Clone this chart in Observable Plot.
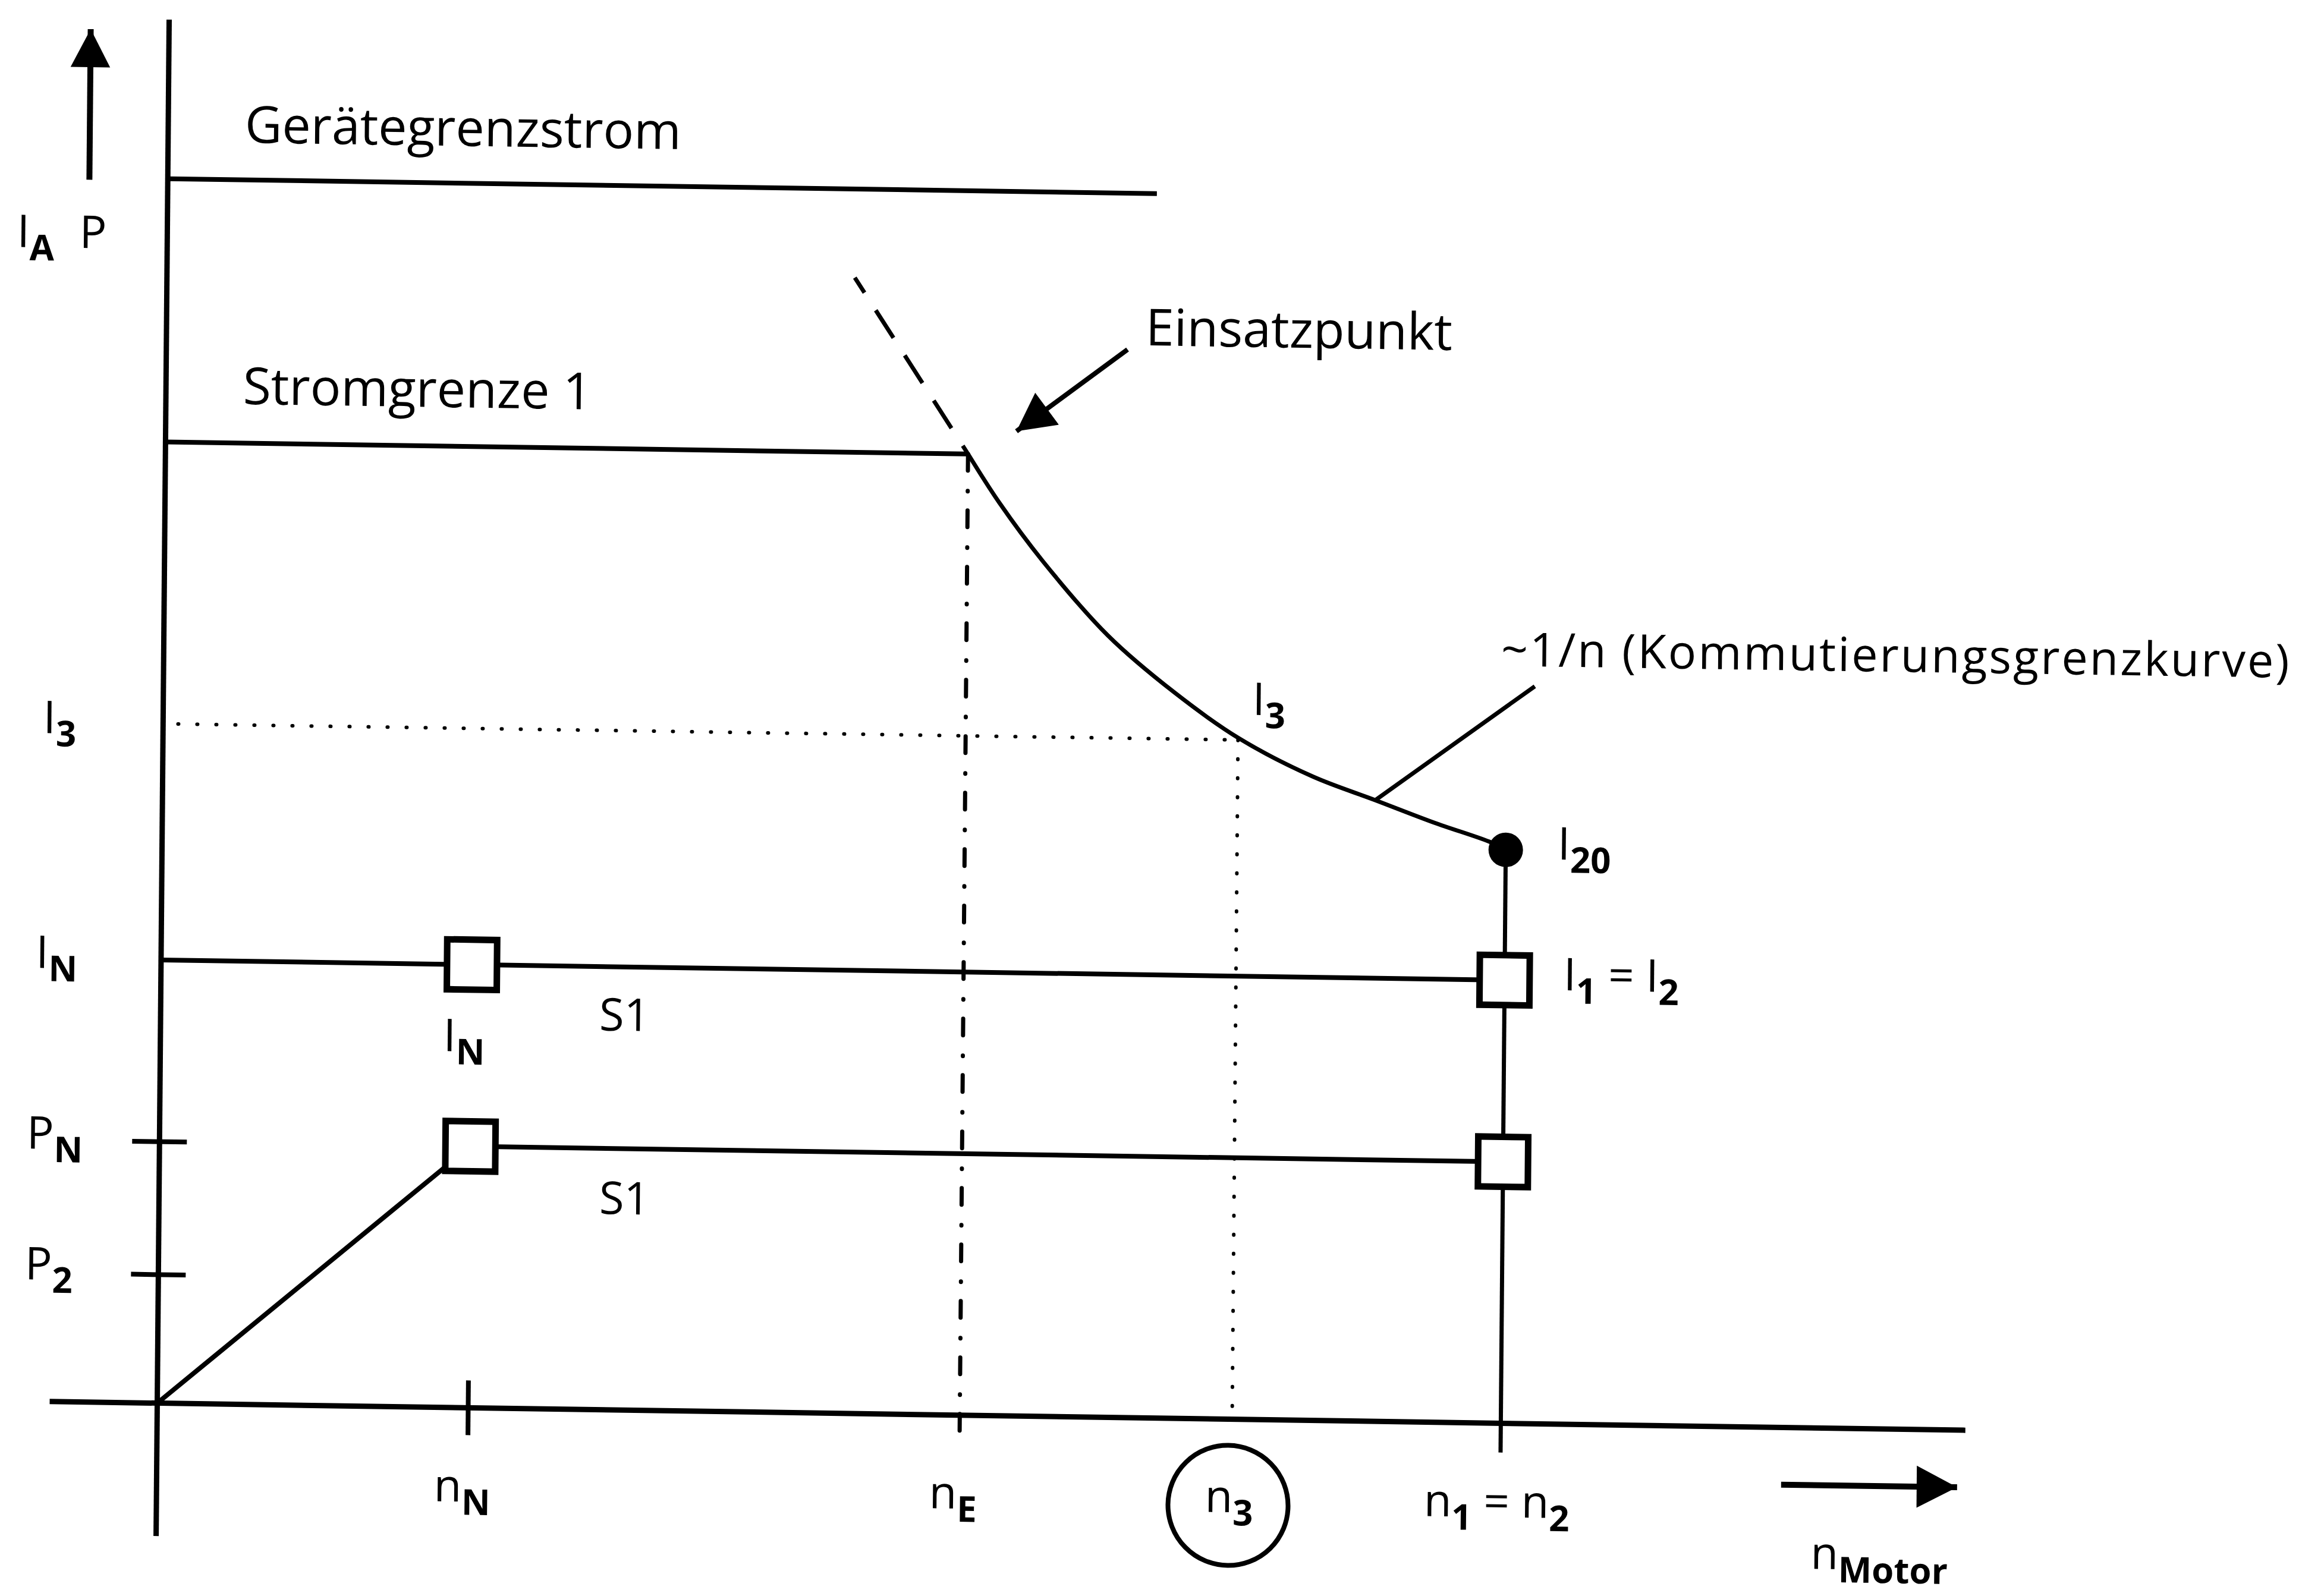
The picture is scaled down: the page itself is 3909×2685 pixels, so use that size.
<!DOCTYPE html>
<html>
<head>
<meta charset="utf-8">
<script src="https://cdn.jsdelivr.net/npm/d3@7"></script>
<script src="https://cdn.jsdelivr.net/npm/@observablehq/plot@0.6"></script>
<style>
  html, body { margin: 0; padding: 0; background: #ffffff; }
  #chart { width: 3909px; height: 2685px; overflow: hidden; }
</style>
</head>
<body>
<div id="chart"></div>
<script>
// ---------------- DATA (relative units: n / n_N, I / I_N) ----------------
const nN = 1.000, nE = 2.581, n3 = 3.457, n1 = 4.321;          // characteristic speeds
const IN = 1.000, I3 = 1.533, I20 = 1.294;                      // currents
const IStrom = 2.169, IGeraet = 2.763;                          // current limits
const PN = 0.590, P2 = 0.290;                                   // powers
const geraetEnd = 3.181;                                        // end of "Gerätegrenzstrom" line

// commutation limit curve ~1/n (from n_E to n_1)
const curveN = [2.581, 2.683, 2.824, 3.036, 3.249, 3.459, 3.698, 3.899, 4.090, 4.275, 4.321];
const curveI = [2.169, 2.060, 1.930, 1.764, 1.639, 1.537, 1.453, 1.402, 1.353, 1.310, 1.294];

// dashed continuation of the curve above the current limit
const dashN = [2.212, nE];
const dashI = [2.563, IStrom];

// axis extents
const xAxisN = [-0.346, 5.815];
const yAxisI = [-0.300, 3.122];
const belowAxis = [-0.071, -0.066];        // lower ends of n_E and n_1 verticals
const dotStartN = 0.048;                    // start of the I3 dotted line

// annotation lines
const leaderN = [3.899, 4.410], leaderI = [1.401, 1.664];         // ~1/n leader
const einsatzN = [3.091, 2.736], einsatzI = [2.410, 2.222];       // Einsatzpunkt arrow
const upArrowN = [-0.252, -0.252], upArrowI = [2.758, 3.098];     // I_A, P arrow
const rightArrowN = [5.224, 5.790], rightArrowI = [-0.129, -0.129]; // n_Motor arrow
const circleN = [3.446], circleI = [-0.1945];                      // circle round n_3

// text labels
const bigLabels = ["Gerätegrenzstrom", "Stromgrenze 1", "Einsatzpunkt", "~1/n (Kommutierungsgrenzkurve)"];
const bigX = [0.260, 0.261, 3.162, 4.314];
const bigY = [2.847, 2.257, 2.420, 1.709];

const symLabels = ["I_A", "P", "I_3", "I_N", "P_N", "P_2", "I_N", "S1", "S1", "I_3", "I_{20}", "I_1 = I_2",
                   "n_N", "n_E", "n_3", "n_1 = n_2", "n_{Motor}"];
const symX = [-0.470, -0.269, -0.372, -0.389, -0.414, -0.416, 0.923, 1.424, 1.429, 3.516, 4.501, 4.524,
              0.905, 2.498, 3.385, 4.089, 5.334];
const symY = [2.604, 2.604, 1.508, 0.978, 0.570, 0.275, 0.804, 0.856, 0.442, 1.590, 1.274, 0.979,
              -0.212, -0.211, -0.210, -0.212, -0.318];

// ---------------- helpers ----------------
const zip = (a, b) => a.map((v, i) => [v, b[i]]);
const xDomain = [0, 6], xRange = [264, 264 + 6 * 523];
const yDomain = [0, 3], yRange = [2360, 2360 - 3 * 745.5];
const xs = d3.scaleLinear(xDomain, xRange), ys = d3.scaleLinear(yDomain, yRange);

function headSymbol(angle) {
  const c = Math.cos(angle), s = Math.sin(angle);
  return {
    draw(ctx, size) {
      const r = Math.sqrt(size / Math.PI), L = r, W = r * 0.52;
      [[0, 0], [-L, -W], [-L, W]].forEach(([px, py], i) => {
        const X = c * px - s * py, Y = s * px + c * py;
        i ? ctx.lineTo(X, Y) : ctx.moveTo(X, Y);
      });
      ctx.closePath();
    }
  };
}
const squareSymbol = {draw(ctx, size) { const r = Math.sqrt(size / Math.PI); ctx.rect(-r, -r, 2 * r, 2 * r); }};
const hlineSymbol = {draw(ctx, size) { const r = Math.sqrt(size / Math.PI); ctx.moveTo(-r, 0); ctx.lineTo(r, 0); }};
const vlineSymbol = {draw(ctx, size) { const r = Math.sqrt(size / Math.PI); ctx.moveTo(0, -r); ctx.lineTo(0, r); }};

const angleOf = (N, I) => Math.atan2(ys(I[1]) - ys(I[0]), xs(N[1]) - xs(N[0]));

const K = "black";
const line = (pts, o = {}) => Plot.line(pts, {stroke: K, strokeWidth: 8, strokeLinecap: "butt", ...o});

const marks = [
  // axes
  line(zip(xAxisN, [0, 0]), {strokeWidth: 9}),
  line(zip([0, 0], yAxisI), {strokeWidth: 9}),
  // limits
  line([[0, IGeraet], [geraetEnd, IGeraet]]),
  line([[0, IStrom], [nE, IStrom]]),
  // commutation curve
  line(zip(curveN, curveI), {curve: "catmull-rom", strokeWidth: 7, strokeLinecap: "round"}),
  line(zip(dashN, dashI), {strokeWidth: 7, strokeDasharray: "55,35", strokeDashoffset: 25}),
  // n_E dash-dot
  line([[nE, IStrom], [nE, belowAxis[0]]], {strokeWidth: 7, strokeLinecap: "round", strokeDasharray: "28,34,1,32"}),
  // I3 / n3 dotted
  line([[dotStartN, I3], [n3, I3]], {strokeWidth: 6, strokeLinecap: "round", strokeDasharray: "1,31"}),
  line([[n3, I3], [n3, 0]], {strokeWidth: 6, strokeLinecap: "round", strokeDasharray: "1,31"}),
  // S1 lines
  line([[0, IN], [n1, IN]]),
  line([[0, 0], [nN, PN], [n1, PN]], {strokeLinejoin: "miter"}),
  // n1 vertical
  line([[n1, I20], [n1, belowAxis[1]]], {strokeWidth: 7}),
  // leader line
  line(zip(leaderN, leaderI), {strokeWidth: 7}),
  // arrows shafts
  line(zip(einsatzN, einsatzI), {strokeWidth: 8}),
  line(zip(upArrowN, upArrowI), {strokeWidth: 10}),
  line(zip(rightArrowN, rightArrowI), {strokeWidth: 10}),
  // arrow heads
  Plot.dot([[einsatzN[1], einsatzI[1]]], {x: d => d[0], y: d => d[1], r: 64, symbol: headSymbol(angleOf(einsatzN, einsatzI)), fill: K, stroke: null}),
  Plot.dot([[upArrowN[1], upArrowI[1]]], {x: d => d[0], y: d => d[1], r: 64, symbol: headSymbol(angleOf(upArrowN, upArrowI)), fill: K, stroke: null}),
  Plot.dot([[rightArrowN[1], rightArrowI[1]]], {x: d => d[0], y: d => d[1], r: 68, symbol: headSymbol(angleOf(rightArrowN, rightArrowI)), fill: K, stroke: null}),
  // ticks
  Plot.dot([[0, PN], [0, P2]], {x: d => d[0], y: d => d[1], r: 46, symbol: hlineSymbol, stroke: K, strokeWidth: 8, fill: "none"}),
  Plot.dot([[nN, 0]], {x: d => d[0], y: d => d[1], r: 46, symbol: vlineSymbol, stroke: K, strokeWidth: 8, fill: "none"}),
  // operating point boxes
  Plot.dot([[nN, IN], [nN, PN], [n1, IN], [n1, PN]], {x: d => d[0], y: d => d[1], r: 42, symbol: squareSymbol, fill: "white", stroke: K, strokeWidth: 11}),
  // I20 point
  Plot.dot([[n1, I20]], {x: d => d[0], y: d => d[1], r: 29, fill: K, stroke: null}),
  // circle around n3
  Plot.dot(zip(circleN, circleI), {x: d => d[0], y: d => d[1], r: 101, fill: "none", stroke: K, strokeWidth: 8}),
  // labels
  Plot.text(bigLabels.map((t, i) => ({t, x: bigX[i], y: bigY[i]})), {x: "x", y: "y", text: "t", textAnchor: "start", lineAnchor: "bottom", fontSize: 86, fill: K, dx: -7}),
  Plot.text(symLabels.map((t, i) => ({t, x: symX[i], y: symY[i]})), {x: "x", y: "y", text: "t", textAnchor: "start", lineAnchor: "bottom", fontSize: 76, fill: K, dx: -7})
];

const svg = Plot.plot({
  width: 3909,
  height: 2685,
  margin: 0,
  x: {domain: xDomain, range: xRange, axis: null},
  y: {domain: yDomain, range: yRange, axis: null},
  style: {fontFamily: "'Open Sans', sans-serif", background: "white", color: "black", overflow: "visible"},
  marks
});

// subscripts: "X_s" or "X_{sub}"
const NS = "http://www.w3.org/2000/svg";
const SUB_SHIFT = 22;
svg.querySelectorAll("text").forEach(t => {
  const s = t.textContent;
  if (s.startsWith("~")) { t.setAttribute("font-size", 79); t.style.letterSpacing = "3px"; }
  if (!s.includes("_")) return;
  t.textContent = "";
  let down = false;
  const add = (str, sub) => {
    const ts = document.createElementNS(NS, "tspan");
    ts.textContent = str;
    if (sub) {
      ts.setAttribute("font-size", 60);
      ts.setAttribute("font-weight", "bold");
      if (!down) { ts.setAttribute("dy", SUB_SHIFT); down = true; }
    } else if (down) { ts.setAttribute("dy", -SUB_SHIFT); down = false; }
    t.appendChild(ts);
  };
  const re = /_\{([^}]*)\}|_(.)/g;
  let last = 0, m;
  while ((m = re.exec(s))) {
    if (m.index > last) add(s.slice(last, m.index), false);
    add(m[1] !== undefined ? m[1] : m[2], true);
    last = re.lastIndex;
  }
  if (last < s.length) add(s.slice(last), false);
});

// slight skew of the scanned original
svg.style.transformOrigin = "264px 2360px";
svg.style.transform = "matrix(1, 0.015, -0.0086, 1, 0, 0)";

document.getElementById("chart").appendChild(svg);
</script>
</body>
</html>
